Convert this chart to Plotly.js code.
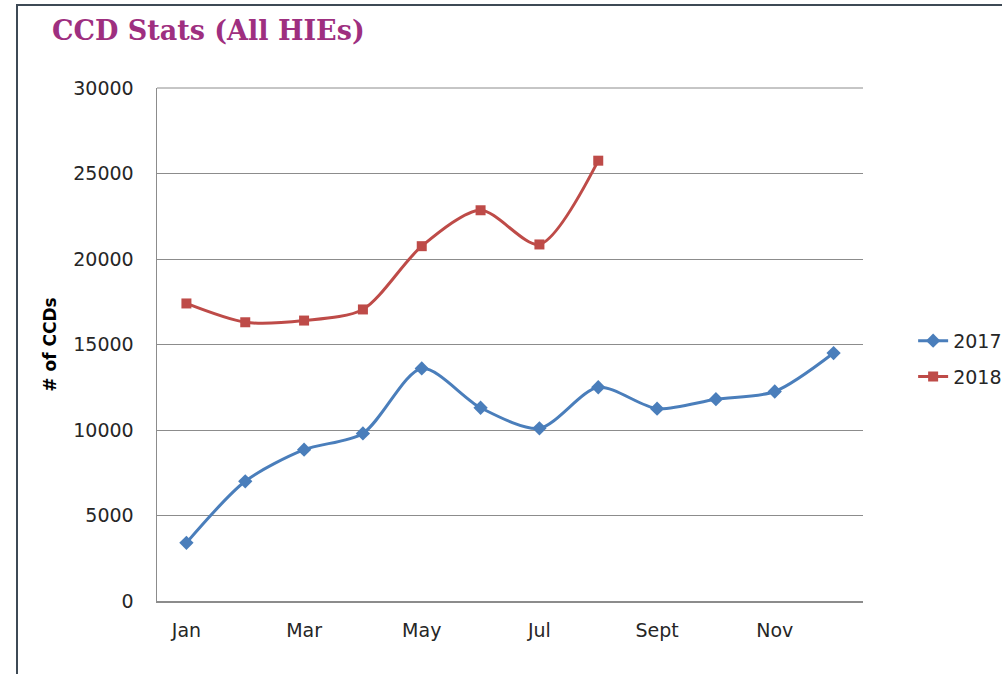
<!DOCTYPE html>
<html>
<head>
<meta charset="utf-8">
<script src="https://cdn.plot.ly/plotly-3.0.1.min.js"></script>
<style>
html,body{margin:0;padding:0;background:#fff;}
#wrap{position:relative;width:1002px;height:674px;overflow:hidden;}
#frame{position:absolute;left:16px;top:4px;width:1000px;height:700px;border-left:2px solid #3e4a55;border-top:2px solid #3e4a55;pointer-events:none;z-index:5;}
#chart{position:absolute;left:0;top:0;width:1002px;height:674px;}
</style>
</head>
<body>
<div id="wrap">
<div id="chart"></div>
<div id="frame"></div>
</div>
<script>
const months = ["Jan","Feb","Mar","Apr","May","Jun","Jul","Aug","Sept","Oct","Nov","Dec"];
const tickLabels = ["Jan","Mar","May","Jul","Sept","Nov"];
const values2017 = [3400, 7000, 8850, 9800, 13600, 11300, 10100, 12500, 11250, 11800, 12250, 14500];
const values2018 = [17400, 16300, 16400, 17050, 20750, 22850, 20850, 25750];
const seriesNames = ["2017", "2018"];

const traces = [
  {
    x: months, y: values2017, name: seriesNames[0], type: "scatter", mode: "lines+markers",
    legendgroup: "a",
    line: {color: "#4a7ebb", width: 3, shape: "spline", smoothing: 0.8},
    marker: {symbol: "diamond", size: 11, color: "#4a7ebb"}
  },
  {
    x: months.slice(0, values2018.length), y: values2018, name: seriesNames[1], type: "scatter", mode: "lines+markers",
    legendgroup: "b",
    line: {color: "#be4b48", width: 3, shape: "spline", smoothing: 0.8},
    marker: {symbol: "square", size: 10, color: "#be4b48"}
  }
];

const layout = {
  width: 1002, height: 674,
  margin: {l: 157, r: 139, t: 88, b: 73, autoexpand: false},
  paper_bgcolor: "#ffffff", plot_bgcolor: "#ffffff",
  font: {family: "DejaVu Sans, sans-serif", color: "#262626"},
  title: {
    text: "CCD Stats (All HIEs)",
    font: {family: "DejaVu Serif, serif", size: 27, color: "#9e2f80", weight: "bold"},
    x: 52/1002, xref: "container", xanchor: "left",
    y: 1 - 31/674, yref: "container", yanchor: "middle"
  },
  xaxis: {
    type: "category", categoryorder: "array", categoryarray: months,
    range: [-0.5, 11.5],
    tickvals: tickLabels, ticktext: tickLabels,
    showgrid: false, zeroline: false,
    showline: true, linecolor: "#8c8c8c", linewidth: 1.5,
    ticks: "", ticklabelstandoff: 12,
    tickfont: {size: 19, color: "#262626"}
  },
  yaxis: {
    range: [0, 30000], tickvals: [0,5000,10000,15000,20000,25000,30000],
    ticktext: ["0","5000","10000","15000","20000","25000","30000"],
    showgrid: true, gridcolor: "#8c8c8c", gridwidth: 1,
    zeroline: false, showline: true, linecolor: "#8c8c8c", linewidth: 1.5,
    ticks: "", ticklabelstandoff: 18,
    tickfont: {size: 19, color: "#262626"},
    title: {text: "# of CCDs", font: {size: 17, color: "#000000", family: "DejaVu Sans, sans-serif", weight: "bold"}, standoff: 12}
  },
  shapes: [
    {type: "line", xref: "paper", yref: "paper", x0: 0, x1: 1, y0: 1, y1: 1, line: {color: "#8c8c8c", width: 1}}
  ],
  legend: {
    x: 1.071, xanchor: "left", y: 0.472, yanchor: "middle",
    font: {size: 19, color: "#262626"},
    bgcolor: "rgba(0,0,0,0)", traceorder: "grouped", tracegroupgap: 8, itemwidth: 30
  },
  showlegend: true
};

Plotly.newPlot("chart", traces, layout, {displayModeBar: false, staticPlot: true});
</script>
</body>
</html>
